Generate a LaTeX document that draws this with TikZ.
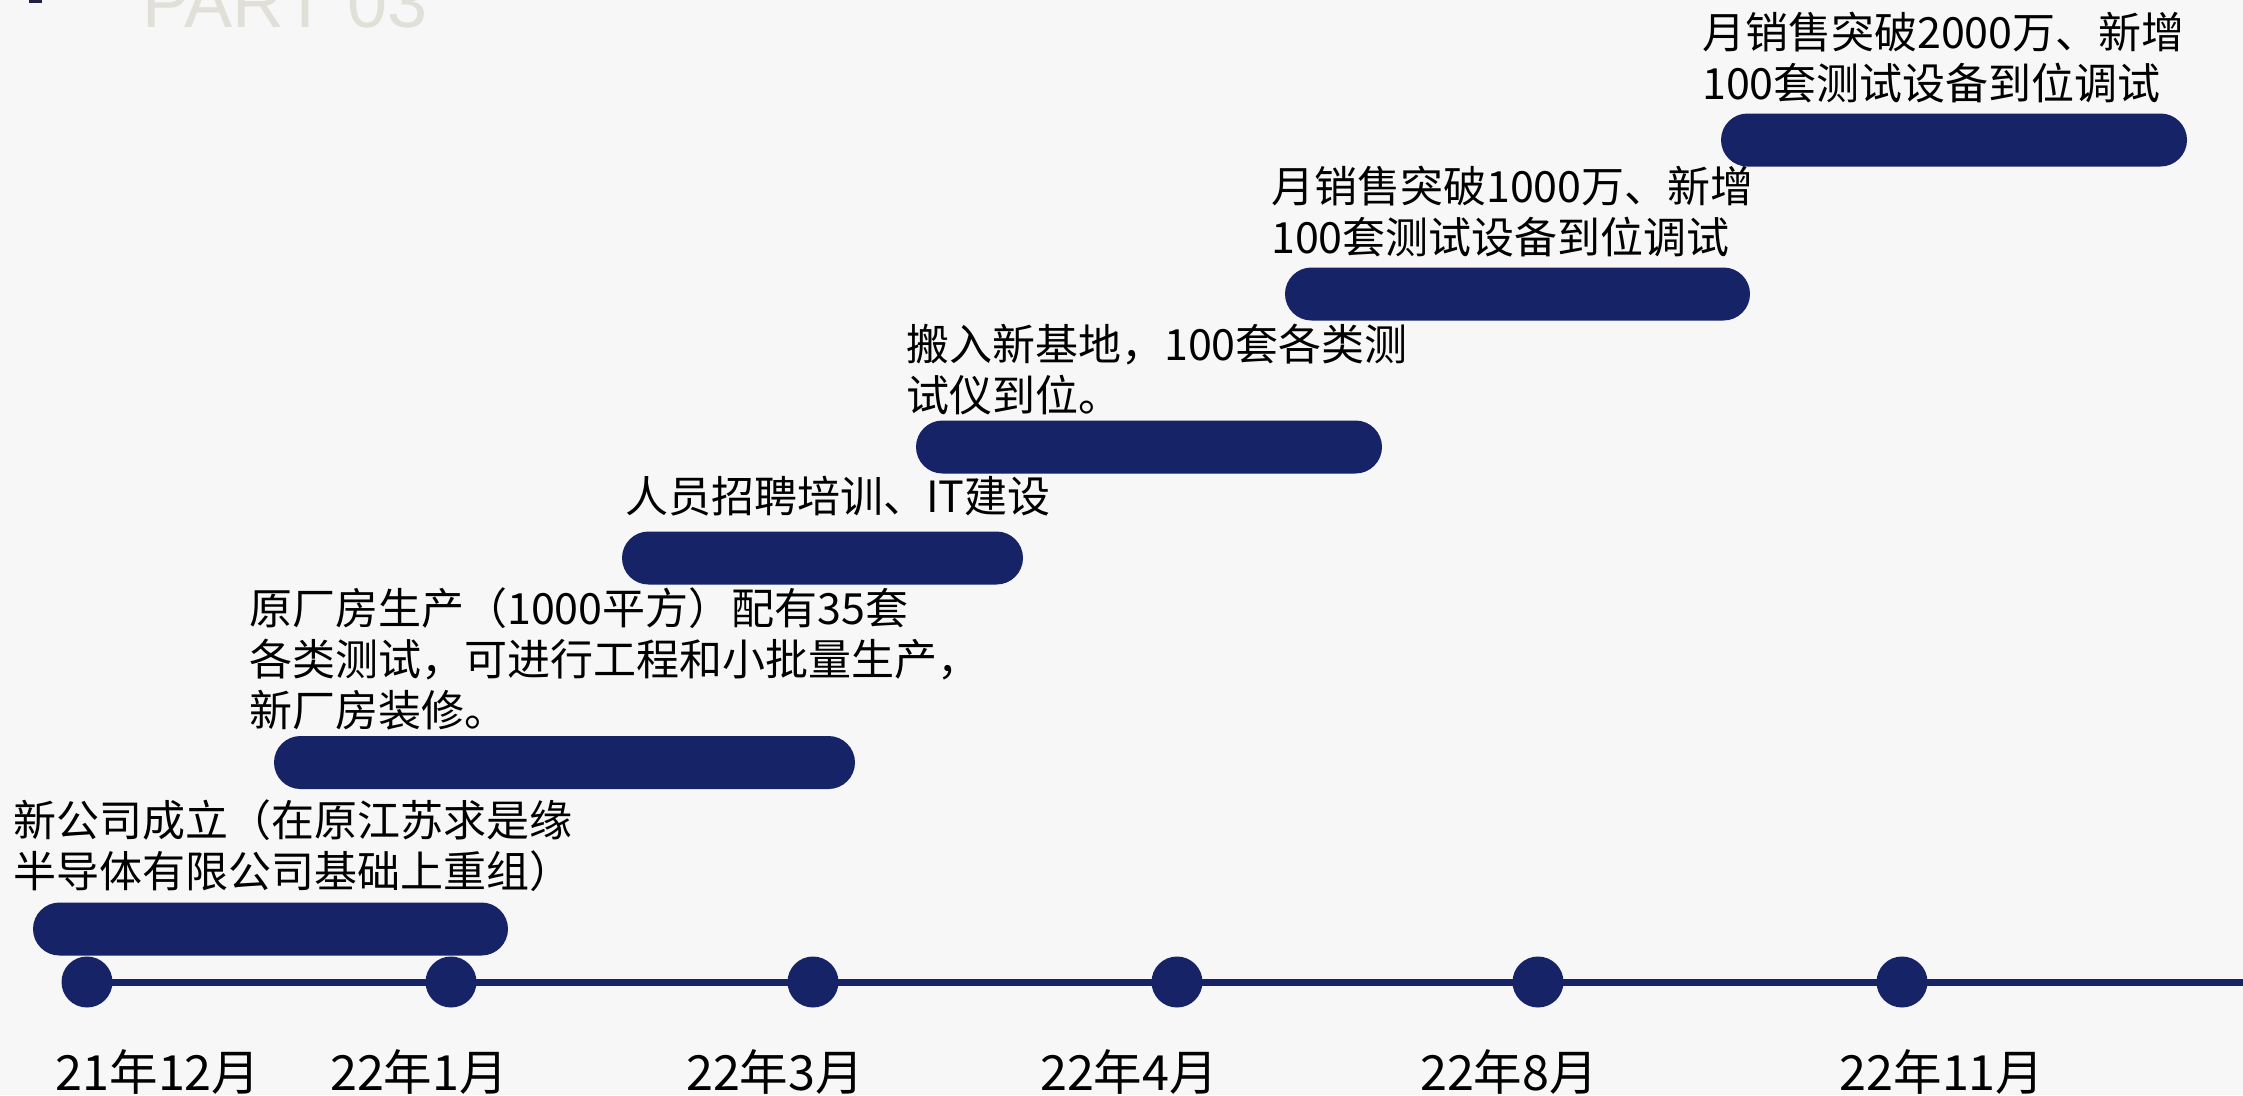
\documentclass[tikz,border=0pt]{standalone}
\usepackage{fontspec}
\setmainfont{Noto Sans CJK SC}
\newfontfamily\titlefont{Liberation Sans}
\definecolor{navy}{HTML}{162366}
\definecolor{bgc}{HTML}{F7F7F7}
\definecolor{ghost}{HTML}{E0E0D9}
\definecolor{markc}{HTML}{22243F}
\begin{document}
\begin{tikzpicture}[x=1pt,y=-1pt,
  bar/.style={fill=navy, rounded corners=26.5pt, inner sep=0pt, minimum height=53pt},
  dot/.style={circle, fill=navy, minimum size=51pt, inner sep=0pt},
  event/.style={anchor=north west, inner sep=0pt, align=left, font=\fontsize{43pt}{51pt}\selectfont},
  month/.style={anchor=north, inner sep=0pt, font=\fontsize{48.5pt}{56pt}\selectfont},
  axis/.style={draw=navy, line width=7pt}]
\useasboundingbox (0,0) rectangle (2243,1095);
\fill[bgc] (0,0) rectangle (2243,1095);
% header fragments
\fill[markc] (29,-10) rectangle (42,3);
\node[anchor=base west, inner sep=0pt, text=ghost, font=\titlefont\fontsize{72pt}{80pt}\selectfont] (part) at (142,27) {PART 03};
% timeline
\coordinate (tstart) at (87,982);
\coordinate (tend) at (2243,982);
\draw[axis] (tstart) -- (tend);
\node[dot] (d1) at (87,982) {};
\node[dot] (d2) at (451,982) {};
\node[dot] (d3) at (813,982) {};
\node[dot] (d4) at (1177,982) {};
\node[dot] (d5) at (1538,982) {};
\node[dot] (d6) at (1902,982) {};
% month labels
\node[month] (m1) at (158,1049) {21年12月};
\node[month] (m2) at (419,1049) {22年1月};
\node[month] (m3) at (775,1049) {22年3月};
\node[month] (m4) at (1129,1049) {22年4月};
\node[month] (m5) at (1509,1049) {22年8月};
\node[month] (m6) at (1942,1049) {22年11月};
% bars
\node[bar, minimum width=475pt] (b1) at (270.5,929) {};
\node[bar, minimum width=581pt] (b2) at (564.5,762.5) {};
\node[bar, minimum width=401pt] (b3) at (822.5,558) {};
\node[bar, minimum width=466pt] (b4) at (1149,447) {};
\node[bar, minimum width=465pt] (b5) at (1517.5,294) {};
\node[bar, minimum width=466pt] (b6) at (1954,140) {};
% event texts
\node[event] (t1) at (13,799) {新公司成立（在原江苏求是缘\\半导体有限公司基础上重组）};
\node[event] (t2) at (249,587) {原厂房生产（1000平方）配有35套\\各类测试，可进行工程和小批量生产，\\新厂房装修。};
\node[event] (t3) at (625,476) {人员招聘培训、IT建设};
\node[event] (t4) at (906,324) {搬入新基地，100套各类测\\试仪到位。};
\node[event] (t5) at (1271,166) {月销售突破1000万、新增\\100套测试设备到位调试};
\node[event] (t6) at (1702,12) {月销售突破2000万、新增\\100套测试设备到位调试};
\end{tikzpicture}
\end{document}
